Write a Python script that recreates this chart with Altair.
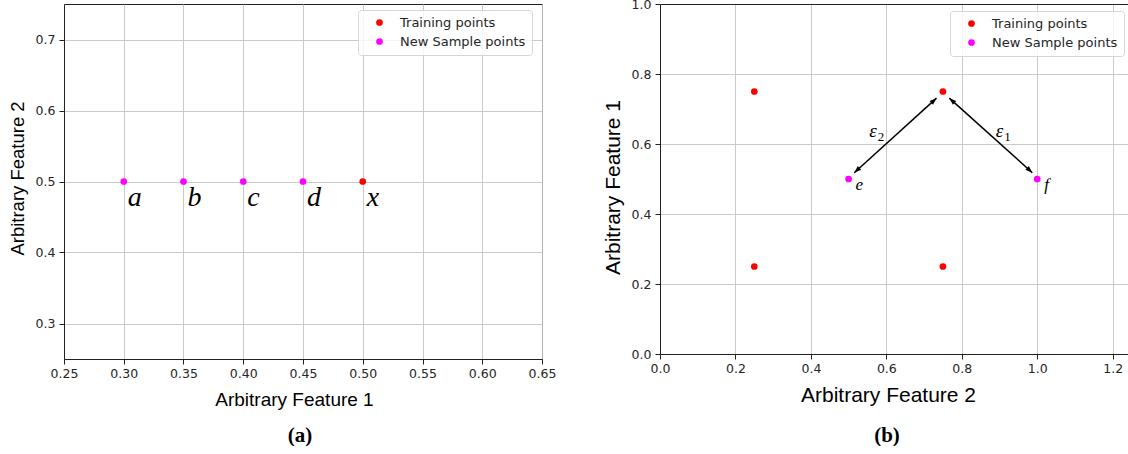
import math
import altair as alt
import pandas as pd

SERIES = ["Training points", "New Sample points"]
COLORS = ["#ff0000", "#ff00ff"]

# ---- panel (a) ----
a_train_x = [0.50]
a_train_y = [0.50]
a_train_lab = ["x"]
a_new_x = [0.30, 0.35, 0.40, 0.45]
a_new_y = [0.50, 0.50, 0.50, 0.50]
a_new_lab = ["a", "b", "c", "d"]
a_xticks = [0.25, 0.30, 0.35, 0.40, 0.45, 0.50, 0.55, 0.60, 0.65]
a_yticks = [0.3, 0.4, 0.5, 0.6, 0.7]

# ---- panel (b) ----
b_train_x = [0.25, 0.25, 0.75, 0.75]
b_train_y = [0.75, 0.25, 0.75, 0.25]
b_new_x = [0.50, 1.00]
b_new_y = [0.50, 0.50]
b_new_lab = ["e", "f"]
b_xticks = [0.0, 0.2, 0.4, 0.6, 0.8, 1.0, 1.2]
b_yticks = [0.0, 0.2, 0.4, 0.6, 0.8, 1.0]

# double arrows (start near training point, end near new sample point)
arrow_x1 = [0.733, 0.767]
arrow_y1 = [0.731, 0.731]
arrow_x2 = [0.515, 0.987]
arrow_y2 = [0.518, 0.518]
eps_x = [0.555, 0.890]
eps_y = [0.620, 0.620]
eps_sub = ["2", "1"]

A_W, A_H = 478, 355
B_W, B_H = 468, 350
B_XMAX = 1.2406

a_df = pd.DataFrame({
    "x": a_train_x + a_new_x,
    "y": a_train_y + a_new_y,
    "kind": [SERIES[0]] * len(a_train_x) + [SERIES[1]] * len(a_new_x),
    "label": a_train_lab + a_new_lab,
})
b_df = pd.DataFrame({
    "x": b_train_x + b_new_x,
    "y": b_train_y + b_new_y,
    "kind": [SERIES[0]] * len(b_train_x) + [SERIES[1]] * len(b_new_x),
})
b_lab_df = pd.DataFrame({"x": b_new_x, "y": b_new_y, "label": b_new_lab})
arrows_df = pd.DataFrame({"x1": arrow_x1, "y1": arrow_y1, "x2": arrow_x2, "y2": arrow_y2})

sx = B_W / B_XMAX
sy = B_H / 1.0
hx, hy, ha = [], [], []
for x1, y1, x2, y2 in zip(arrow_x1, arrow_y1, arrow_x2, arrow_y2):
    for (px, py, dx, dy) in [(x2, y2, x2 - x1, y2 - y1), (x1, y1, x1 - x2, y1 - y2)]:
        hx.append(px)
        hy.append(py)
        ha.append(math.degrees(math.atan2(dx * sx, dy * sy)) % 360)
heads_df = pd.DataFrame({"x": hx, "y": hy, "angle": ha})
eps_df = pd.DataFrame({"x": eps_x, "y": eps_y, "sub": eps_sub})


def color_enc(lx, ly):
    return alt.Color(
        "kind:N",
        scale=alt.Scale(domain=SERIES, range=COLORS),
        legend=alt.Legend(title=None, orient="none", legendX=lx, legendY=ly),
    )


# ---- left chart ----
ax_scale = alt.Scale(domain=[0.25, 0.65], nice=False, zero=False)
ay_scale = alt.Scale(domain=[0.25, 0.75], nice=False, zero=False)

a_pts = alt.Chart(a_df).mark_circle(size=45, opacity=1).encode(
    x=alt.X("x:Q", scale=ax_scale,
            axis=alt.Axis(values=a_xticks, format=".2f", title="Arbitrary Feature 1",
                          titleFontSize=19, titleX=230, titlePadding=11)),
    y=alt.Y("y:Q", scale=ay_scale,
            axis=alt.Axis(values=a_yticks, format=".1f", title="Arbitrary Feature 2",
                          titleFontSize=18.5, titleY=174, titlePadding=8)),
    color=color_enc(294, 6),
)
a_txt = alt.Chart(a_df).mark_text(
    font="Liberation Serif", fontStyle="italic", fontSize=28, align="left",
    baseline="alphabetic", dx=4, dy=24, color="black",
).encode(
    x=alt.X("x:Q", scale=ax_scale, axis=None),
    y=alt.Y("y:Q", scale=ay_scale, axis=None),
    text="label:N",
)
left = alt.layer(a_pts, a_txt).resolve_axis(
    x="independent", y="independent"
).properties(
    width=A_W, height=A_H,
    title=alt.TitleParams("(a)", orient="bottom", anchor="middle", font="Liberation Serif",
                          fontSize=21, fontWeight="bold", color="black", offset=15, dx=-3),
)

# ---- right chart ----
bx_scale = alt.Scale(domain=[0, B_XMAX], nice=False, zero=False)
by_scale = alt.Scale(domain=[0, 1.0], nice=False, zero=False)

b_pts = alt.Chart(b_df).mark_circle(size=45, opacity=1).encode(
    x=alt.X("x:Q", scale=bx_scale,
            axis=alt.Axis(values=b_xticks, format=".1f", title="Arbitrary Feature 2",
                          titleFontSize=21, titleX=228, titlePadding=10)),
    y=alt.Y("y:Q", scale=by_scale,
            axis=alt.Axis(values=b_yticks, format=".1f", title="Arbitrary Feature 1",
                          titleFontSize=21, titleY=183, titlePadding=8)),
    color=color_enc(290, 7),
)
b_top = alt.Chart(b_df).mark_circle(opacity=0).encode(
    x=alt.X("x:Q", scale=bx_scale,
            axis=alt.Axis(orient="top", labels=False, ticks=False, grid=False, title=None, domain=True)),
    y=alt.Y("y:Q", scale=by_scale, axis=None),
)
b_rules = alt.Chart(arrows_df).mark_rule(color="black", strokeWidth=1.5).encode(
    x=alt.X("x1:Q", scale=bx_scale, axis=None),
    y=alt.Y("y1:Q", scale=by_scale, axis=None),
    x2="x2:Q",
    y2="y2:Q",
)
b_heads = alt.Chart(heads_df).mark_point(
    shape="M0,0 L-0.36,1 L0.36,1 Z", filled=True, color="black", size=200, opacity=1,
).encode(
    x=alt.X("x:Q", scale=bx_scale, axis=None),
    y=alt.Y("y:Q", scale=by_scale, axis=None),
    angle=alt.Angle("angle:Q", scale=None),
)
b_txt = alt.Chart(b_lab_df).mark_text(
    font="Liberation Serif", fontStyle="italic", fontSize=17, align="left",
    baseline="alphabetic", dx=7, dy=11, color="black",
).encode(
    x=alt.X("x:Q", scale=bx_scale, axis=None),
    y=alt.Y("y:Q", scale=by_scale, axis=None),
    text="label:N",
)
b_eps = alt.Chart(eps_df).mark_text(
    font="Liberation Serif", fontStyle="italic", fontSize=19, align="left",
    baseline="alphabetic", color="black", text="ε",
).encode(
    x=alt.X("x:Q", scale=bx_scale, axis=None),
    y=alt.Y("y:Q", scale=by_scale, axis=None),
)
b_sub = alt.Chart(eps_df).mark_text(
    font="Liberation Serif", fontSize=13, align="left",
    baseline="alphabetic", color="black", dx=8.5, dy=4,
).encode(
    x=alt.X("x:Q", scale=bx_scale, axis=None),
    y=alt.Y("y:Q", scale=by_scale, axis=None),
    text="sub:N",
)
right = alt.layer(b_pts, b_top, b_rules, b_heads, b_txt, b_eps, b_sub).resolve_axis(
    x="independent", y="independent"
).properties(
    width=B_W, height=B_H,
    view=alt.ViewBackground(strokeWidth=0, strokeOpacity=0),
    title=alt.TitleParams("(b)", orient="bottom", anchor="middle", font="Liberation Serif",
                          fontSize=21, fontWeight="bold", color="black", offset=19, dx=-7),
)

chart = alt.hconcat(left, right, spacing=118, bounds="flush").resolve_scale(
    color="independent"
).properties(
    padding={"left": 7, "top": -2, "right": 0, "bottom": 0},
    background="white",
).configure_view(
    stroke="#222222", strokeWidth=1,
).configure_axis(
    labelFont="DejaVu Sans", labelFontSize=12.5, labelColor="#262626", labelPadding=4,
    labelFlush=False, labelOverlap=False,
    tickSize=5, tickColor="#222222", tickWidth=1,
    domainColor="#222222", domainWidth=1,
    gridColor="#c4c4c4", gridWidth=0.9,
    titleFont="Liberation Sans", titleFontWeight="normal", titleColor="black",
).configure_axisX(
    labelPadding=3,
).configure_legend(
    padding=6, symbolOffset=9, labelOffset=14, rowPadding=5,
    labelFont="DejaVu Sans", labelFontSize=13, labelColor="#262626",
    symbolSize=45, symbolType="circle", symbolOpacity=1,
    strokeColor="#d6d6d6", fillColor="rgba(255,255,255,0.8)", cornerRadius=3,
)

chart.save("out.html", embed_options={"renderer": "svg", "actions": False})
